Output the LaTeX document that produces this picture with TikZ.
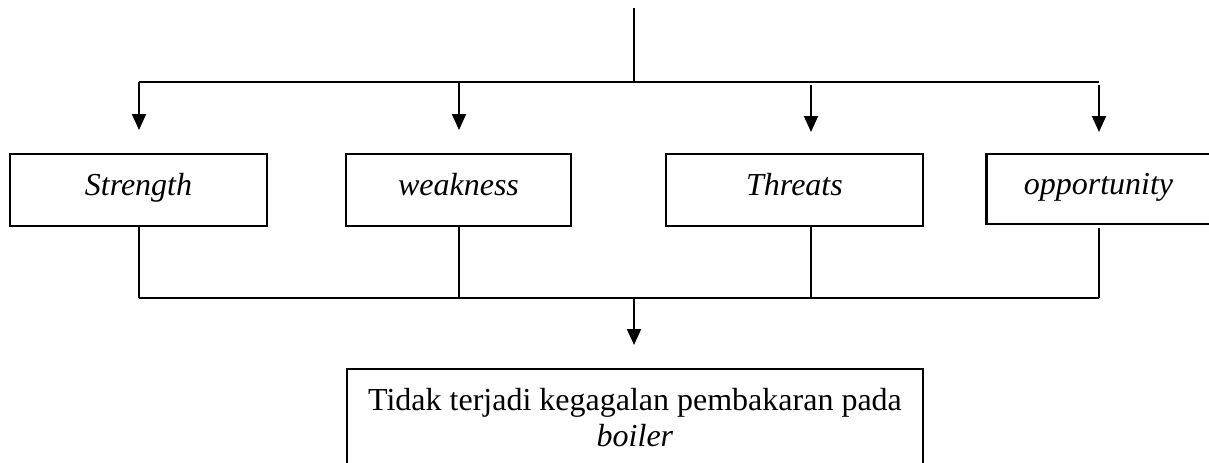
\documentclass[tikz,border=0pt]{standalone}
\usepackage{fontspec}
\setmainfont{Liberation Serif}
\usetikzlibrary{arrows.meta}
\begin{document}
\begin{tikzpicture}[x=0.75pt,y=-0.75pt,
  conn/.style={line width=1.4pt},
  arr/.style={conn,-{Triangle[length=12pt,width=10.5pt]}},
  swot/.style={draw,line width=1.7pt,inner sep=0pt,text height=17.4pt,text depth=9.6pt,
    font=\fontsize{24}{28}\selectfont\itshape},
  goalbox/.style={draw,line width=1.7pt,inner xsep=0pt,inner ysep=0pt,align=center,
    font=\fontsize{24}{27}\selectfont}]
\useasboundingbox (0,0) rectangle (1209,462);
\clip (0,0) rectangle (1209,462);
% boxes
\node[swot,minimum width=192.75pt,minimum height=54pt] (S) at (138.5,190) {Strength};
\node[swot,minimum width=168.75pt,minimum height=54pt] (W) at (458.5,190) {weakness};
\node[swot,minimum width=192.75pt,minimum height=54pt] (T) at (794.5,190) {Threats};
\node[swot,minimum width=168pt,minimum height=52.5pt] (O) at (1098.5,189) {opportunity};
\node[goalbox,minimum width=432pt,anchor=north] (G) at (635,368)
  {\rule{0pt}{30.75pt}Tidak terjadi kegagalan pembakaran pada\\\textit{boiler}\rule[-45pt]{0pt}{0pt}};
% coordinates
\coordinate (top) at (634,8);
\coordinate (split) at (634,82);
\coordinate (h1) at (139,82);
\coordinate (h2) at (459,82);
\coordinate (h3) at (811,85);
\coordinate (h4) at (1099,82);
\coordinate (h4s) at (1099,85);
\coordinate (t1) at (139,130);
\coordinate (t2) at (459,130);
\coordinate (t3) at (811,132);
\coordinate (t4) at (1099,132);
\coordinate (b1) at (139,298);
\coordinate (b2) at (459,298);
\coordinate (b3) at (811,298);
\coordinate (b4) at (1099,298);
\coordinate (mid) at (634,298);
\coordinate (gt) at (634,345);
% top distribution
\draw[conn] (top) -- (split);
\draw[conn] (h1) -- (h4);
\draw[arr] (h1) -- (t1);
\draw[arr] (h2) -- (t2);
\draw[arr] (h3) -- (t3);
\draw[arr] (h4s) -- (t4);
% bottom collection
\draw[conn] (S.south -| b1) -- (b1);
\draw[conn] (W.south -| b2) -- (b2);
\draw[conn] (T.south -| b3) -- (b3);
\draw[conn] ([yshift=-2.25pt]O.south -| b4) -- (b4);
\draw[conn] (b1) -- (b4);
\draw[arr] (mid) -- (gt);
\end{tikzpicture}
\end{document}
